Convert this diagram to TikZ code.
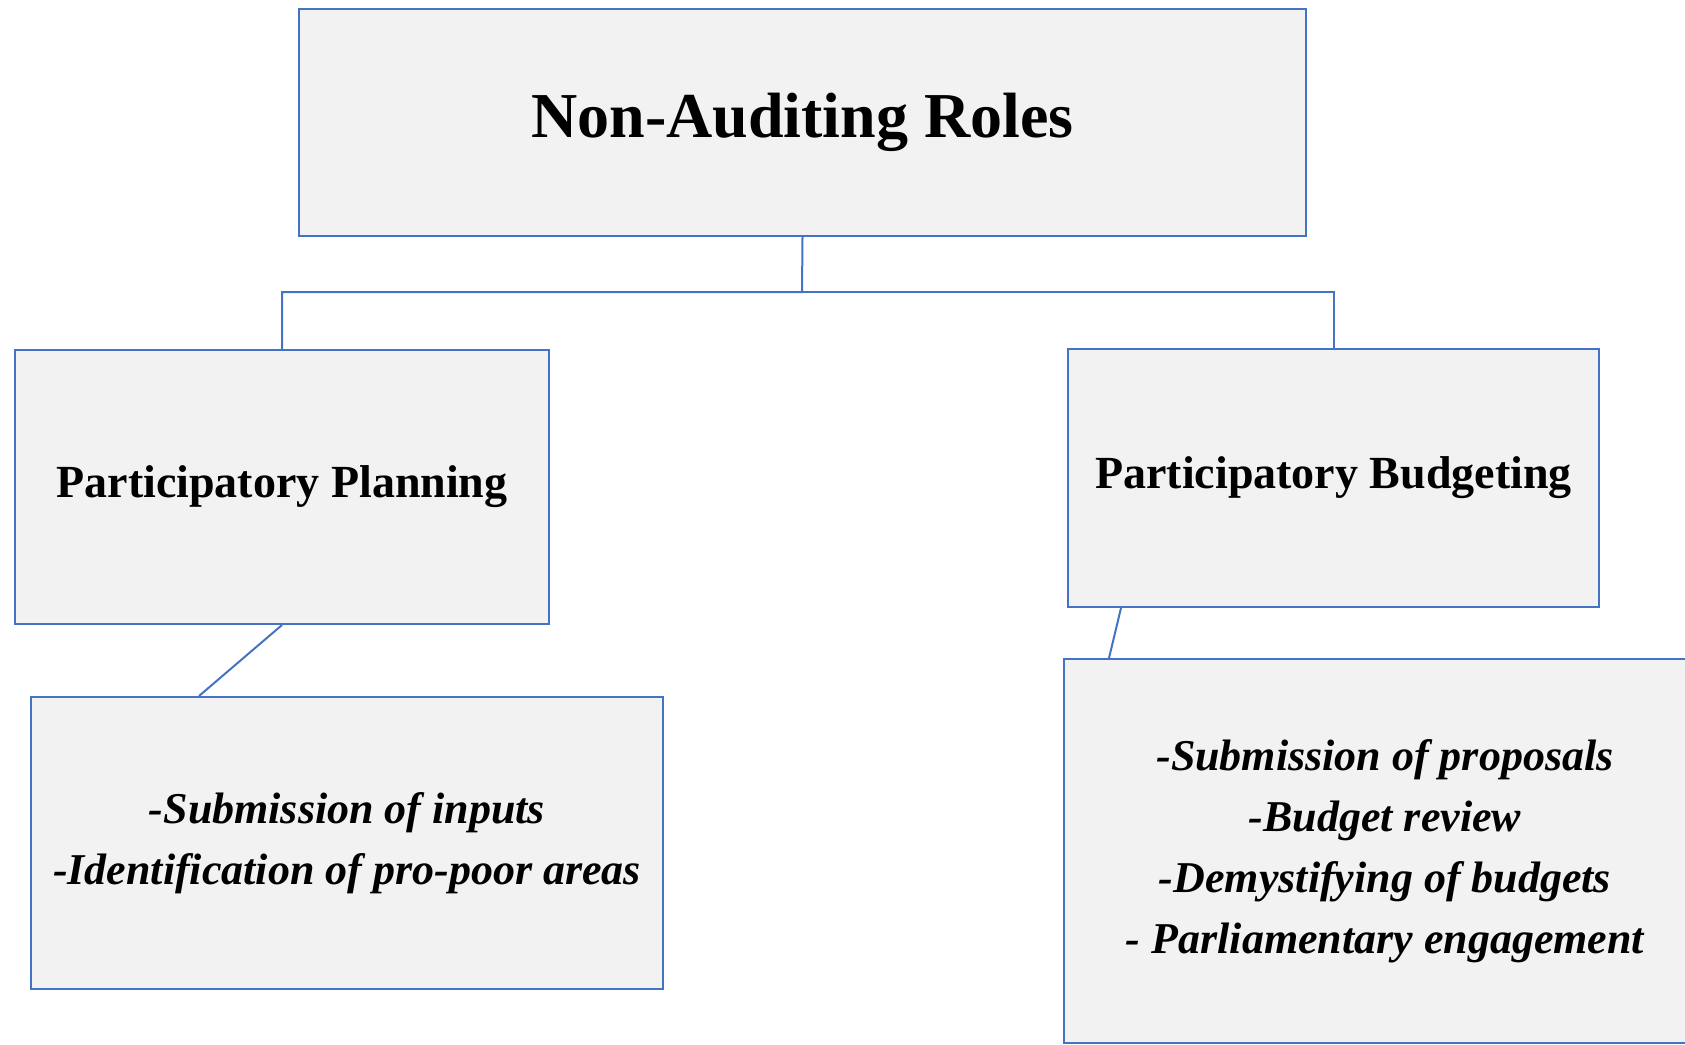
\documentclass[tikz,border=0pt]{standalone}
\usepackage{fontspec}
\setmainfont{Liberation Serif}
\usepackage{tikz}

\definecolor{rolesblue}{HTML}{4472C4}
\definecolor{rolesgray}{HTML}{F2F2F2}

\tikzset{
  rolebox/.style={draw=rolesblue, fill=rolesgray, line width=1pt, inner sep=0pt, align=center},
  rolelink/.style={draw=rolesblue, line width=1pt},
  itemfont/.style={font=\fontsize{22}{30.5}\selectfont\bfseries\itshape}
}

\begin{document}
\begin{tikzpicture}[x=0.5pt, y=-0.5pt]
  % Page frame (right list box runs off the edge)
  \clip (0,0) rectangle (1685,1044);
  \useasboundingbox (0,0) rectangle (1685,1044);

  % Top level
  \node[rolebox, minimum width=503.5pt, minimum height=113.5pt,
        font=\fontsize{32}{38}\selectfont\bfseries] (roles) at (802.5,122.5) {Non-Auditing Roles};

  % Second level
  \node[rolebox, minimum width=267pt, minimum height=137pt,
        font=\fontsize{23}{28}\selectfont\bfseries] (plan) at (282,487) {Participatory Planning};
  \node[rolebox, minimum width=265.5pt, minimum height=129pt,
        font=\fontsize{23}{28}\selectfont\bfseries] (budget) at (1333.5,478) {Participatory Budgeting};

  % Activity lists
  \node[rolebox, itemfont, minimum width=316pt, minimum height=146pt] (planitems) at (347,843)
    {-Submission of inputs\\-Identification of pro-poor areas};
  \node[rolebox, itemfont, minimum width=321pt, minimum height=192pt] (budgetitems) at (1385,851)
    {-Submission of proposals\\-Budget review\\-Demystifying of budgets\\- Parliamentary engagement};

  % Tree connectors
  \coordinate (fork) at (802,292);
  \draw[rolelink] (roles.south) -- (fork) -| (plan.north);
  \draw[rolelink] (fork) -| (budget.north);

  % Links down to the lists
  \draw[rolelink] (plan.south) -- ([xshift=84.5pt]planitems.north west);
  \draw[rolelink] ([xshift=27pt]budget.south west) -- ([xshift=23pt]budgetitems.north west);
\end{tikzpicture}
\end{document}
